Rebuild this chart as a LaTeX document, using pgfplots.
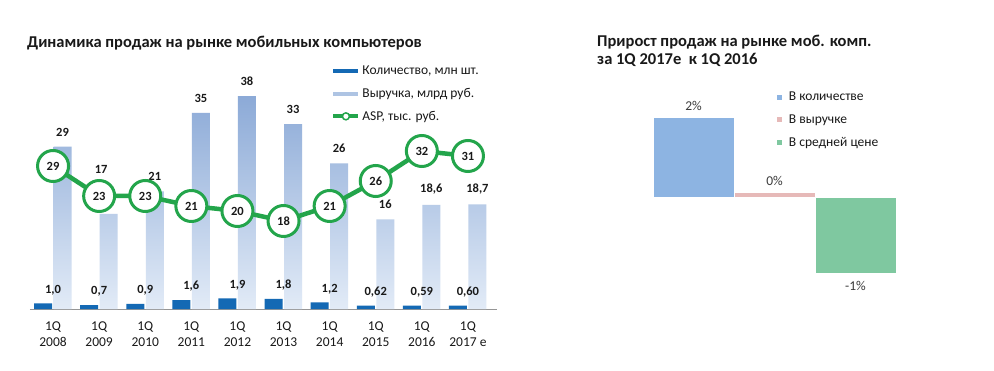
\documentclass[border=0pt]{standalone}
\usepackage{pgfplots}
\pgfplotsset{compat=1.18}
\usepackage{pgfplotstable}
\usepackage{fontspec}
\setmainfont{Carlito}

\definecolor{qblue}{RGB}{20,105,180}
\definecolor{rtop}{RGB}{140,170,215}
\definecolor{rbot}{RGB}{226,235,247}
\definecolor{aspg}{RGB}{35,165,75}
\definecolor{axgray}{RGB}{150,150,150}
\definecolor{gblue}{RGB}{141,180,226}
\definecolor{gpink}{RGB}{230,185,184}
\definecolor{ggreen}{RGB}{127,200,160}
\definecolor{txt}{RGB}{25,25,25}

\pgfplotstableread{
x q ql r rl a dx dy
0 1.0 1,0 29 29 29 9.5 7
1 0.7 0,7 17 17 23 2 37
2 0.9 0,9 21 21 23 9.5 7
3 1.6 1,6 35 35 21 9.5 7
4 1.9 1,9 38 38 20 9.5 7
5 1.8 1,8 33 33 18 9.5 7
6 1.2 1,2 26 26 21 9.5 7
7 0.62 0,62 16 16 26 9.5 7
8 0.59 0,59 18.6 18,6 32 9.5 7
9 0.60 0,60 18.7 18,7 31 9.5 7
}\datatable

\pgfplotstableread{
x v l
0 2.0 2\%
}\gq
\pgfplotstableread{
x v l
1 0.12 0\%
}\gr
\pgfplotstableread{
x v l
2 -1.9 -1\%
}\ga

\begin{document}
\begin{tikzpicture}
\path[use as bounding box, fill=white] (0pt,0pt) rectangle (994pt,370pt);

\node[anchor=west, inner sep=0, font=\bfseries\fontsize{16.5}{20}\selectfont, text=txt] at (27pt,327pt) {Динамика продаж на рынке мобильных компьютеров};
\node[anchor=north west, inner sep=0, align=left, font=\bfseries\fontsize{16.5}{18}\selectfont, text=txt] at (597pt,335pt) {Прирост продаж на рынке моб. комп.\\за 1Q 2017е~ к 1Q 2016};

% left: bars
\begin{axis}[at={(30pt,61pt)}, anchor=south west, scale only axis,
  width=467pt, height=224pt,
  xmin=-0.5, xmax=9.63, ymin=0, ymax=40,
  axis x line*=bottom, axis y line=none,
  x axis line style={-, draw=axgray, line width=0.8pt},
  xtick={0,...,9},
  xticklabels={{1Q\\2008},{1Q\\2009},{1Q\\2010},{1Q\\2011},{1Q\\2012},{1Q\\2013},{1Q\\2014},{1Q\\2015},{1Q\\2016},{1Q\\2017 e}},
  xticklabel style={align=center, font=\fontsize{13.5}{16}\selectfont, text=txt, yshift=-9.5pt},
  major tick length=0pt,
  clip=false]
\addplot[ybar, bar width=18pt, bar shift=-10pt, fill=qblue, draw=none,
  nodes near coords, point meta=explicit symbolic,
  nodes near coords style={font=\bfseries\fontsize{12.5}{14}\selectfont, text=txt, yshift=5pt}]
  table[x=x, y=q, meta=ql]{\datatable};
\addplot[ybar, bar width=18pt, bar shift=9.5pt, top color=rtop, bottom color=rbot, draw=none]
  table[x=x, y=r]{\datatable};
\addplot[draw=none, mark=none, nodes near coords, point meta=explicit symbolic,
  visualization depends on={\thisrow{dx} \as \ldx},
  visualization depends on={\thisrow{dy} \as \ldy},
  nodes near coords style={font=\bfseries\fontsize{12.5}{14}\selectfont, text=txt, xshift=\ldx pt, yshift=\ldy pt}]
  table[x=x, y=r, meta=rl]{\datatable};
\end{axis}

% left: ASP line
\begin{axis}[at={(30pt,61pt)}, anchor=south west, scale only axis,
  width=467pt, height=224pt,
  xmin=-0.5, xmax=9.63, ymin=0.4, ymax=45.2,
  axis lines=none, clip=false,
  legend style={at={(0.645,1.094)}, anchor=north west, draw=none, fill=none,
    font=\fontsize{13.5}{15}\selectfont, text=txt, row sep=8pt, inner sep=0pt},
  legend cell align=left]
\addlegendimage{legend image code/.code={\draw[qblue, line width=4pt] (0pt,0pt) -- (25pt,0pt);}}
\addlegendentry{Количество, млн шт.}
\addlegendimage{legend image code/.code={\draw[rtop!70!white, line width=4pt] (0pt,0pt) -- (25pt,0pt);}}
\addlegendentry{Выручка, млрд руб.}
\addplot[aspg, line width=4.5pt, mark=*, mark size=15.5pt,
  mark options={fill=white, draw=aspg, line width=3pt},
  nodes near coords, point meta=explicit symbolic,
  nodes near coords style={anchor=center, font=\bfseries\fontsize{12.5}{14}\selectfont, text=txt},
  legend image code/.code={\draw[aspg, line width=4pt] (0pt,0pt) -- (25pt,0pt); \draw[aspg, fill=white, line width=1.5pt] (12.5pt,0pt) circle (3.5pt);}]
  table[x=x, y=a, meta=a]{\datatable};
\addlegendentry{ASP, тыс. руб.}
\end{axis}

% right: growth
\begin{axis}[at={(653pt,93pt)}, anchor=south west, scale only axis,
  width=243pt, height=180pt,
  xmin=-0.5, xmax=2.5, ymin=-2, ymax=2.5,
  axis lines=none, clip=false,
  legend style={at={(0.506,1.04)}, anchor=north west, draw=none, fill=none,
    font=\fontsize{13.5}{15}\selectfont, text=txt, row sep=8.5pt, inner sep=0pt,
    nodes={inner xsep=6pt}},
  legend cell align=left,
  legend image code/.code={\fill[#1] (0pt,-3pt) rectangle (6pt,3pt);},
  nodes near coords, point meta=explicit symbolic,
  nodes near coords style={font=\fontsize{13.5}{15}\selectfont, text=txt!85!white}]
\addplot[ybar, bar width=81pt, bar shift=0pt, fill=gblue, draw=white, line width=0.8pt,
  nodes near coords style={yshift=3pt}] table[x=x, y=v, meta=l]{\gq};
\addlegendentry{В количестве}
\addplot[ybar, bar width=81pt, bar shift=0pt, fill=gpink, draw=white, line width=0.8pt,
  nodes near coords style={yshift=3pt}] table[x=x, y=v, meta=l]{\gr};
\addlegendentry{В выручке}
\addplot[ybar, bar width=81pt, bar shift=0pt, fill=ggreen, draw=white, line width=0.8pt,
  nodes near coords style={anchor=north, yshift=-5pt}] table[x=x, y=v, meta=l]{\ga};
\addlegendentry{В средней цене}
\end{axis}
\end{tikzpicture}
\end{document}
